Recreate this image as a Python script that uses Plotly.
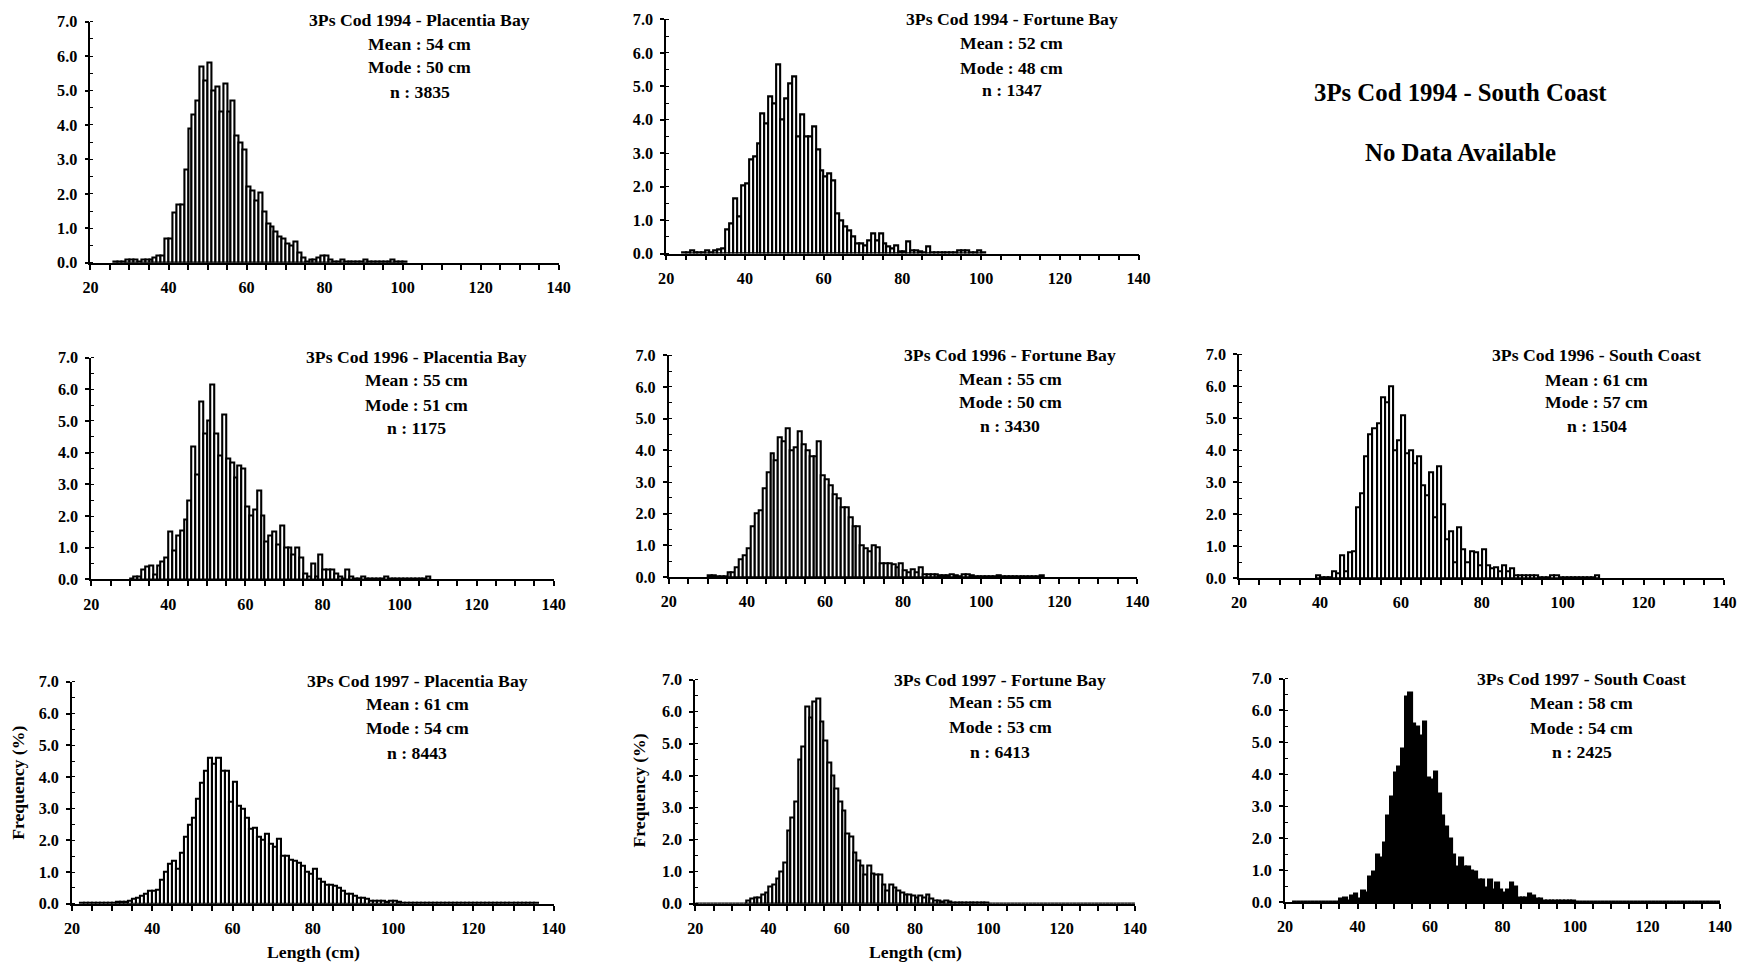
import plotly.graph_objects as go

# Figure size; the page adds its default 8 px body margin around it, and the
# captured page area (1761 x 982) is scaled back to 1745 x 966.
FW, FH = 1745, 966
BODY_MARGIN = 8
PAGE_W, PAGE_H = FW + 2 * BODY_MARGIN, FH + 2 * BODY_MARGIN
SX, SY = PAGE_W / FW, PAGE_H / FH
LEN_MIN, LEN_MAX = 20, 140

# Length-frequency (%) in 1-cm length classes; each list starts at the given length (cm)
pb94_start = 26
pb94_freq = [0.03, 0.05, 0.05, 0.08, 0.08, 0.1, 0.03, 0.08, 0.08, 0.1, 0.15, 0.2, 0.2,
             0.7, 0.7, 1.45, 1.7, 1.7, 2.7, 3.9, 4.3, 4.7, 5.7, 5.3, 5.8, 5.0, 5.1, 4.4,
             5.2, 4.4, 4.7, 3.7, 3.5, 3.3, 2.2, 2.1, 1.8, 2.05, 1.5, 1.15, 1.05, 0.9, 0.75,
             0.7, 0.55, 0.5, 0.62, 0.3, 0.15, 0.05, 0.08, 0.1, 0.15, 0.22, 0.22, 0.1, 0.05,
             0.05, 0.1, 0.03, 0.03, 0.05, 0.05, 0.03, 0.08, 0.05, 0.03, 0.05, 0.03, 0.03,
             0.05, 0.08, 0.03, 0.05, 0.03]

fb94_start = 24
fb94_freq = [0.02, 0.02, 0.08, 0.02, 0.02, 0.02, 0.08, 0.02, 0.1, 0.12, 0.15, 0.72, 0.9,
             1.65, 1.1, 2.05, 2.1, 2.8, 2.9, 3.3, 4.2, 3.9, 4.7, 4.5, 5.65, 4.0, 4.65, 5.1,
             5.3, 3.5, 4.15, 3.5, 3.5, 3.8, 3.1, 2.5, 2.3, 2.4, 2.2, 1.2, 1.0, 0.8, 0.7, 0.5,
             0.3, 0.3, 0.25, 0.4, 0.6, 0.4, 0.6, 0.3, 0.2, 0.15, 0.25, 0.05, 0.05, 0.35, 0.1,
             0.1, 0.05, 0.03, 0.2, 0.03, 0.03, 0.03, 0.03, 0.03, 0.03, 0.03, 0.08, 0.1, 0.1,
             0.03, 0.03, 0.1, 0.03]

pb96_start = 30
pb96_freq = [0.03, 0.1, 0.1, 0.3, 0.4, 0.45, 0.15, 0.45, 0.55, 0.7, 1.5, 0.9, 1.4, 1.55,
             1.9, 2.5, 4.2, 3.3, 5.6, 4.6, 5.0, 6.15, 4.6, 3.9, 5.2, 3.8, 3.7, 3.2, 3.6, 3.5,
             2.3, 2.0, 2.2, 2.8, 2.0, 1.2, 1.4, 1.5, 1.1, 1.7, 1.0, 1.0, 0.8, 1.0, 0.7, 0.2,
             0.1, 0.5, 0.1, 0.8, 0.3, 0.3, 0.3, 0.2, 0.1, 0.03, 0.3, 0.1, 0.03, 0.03, 0.1,
             0.02, 0.02, 0.02, 0.02, 0.02, 0.1, 0.02, 0.02, 0.02, 0.02, 0.02, 0.02, 0.02,
             0.02, 0.02, 0.02, 0.1]

fb96_start = 30
fb96_freq = [0.05, 0.05, 0.02, 0.02, 0.02, 0.15, 0.15, 0.3, 0.55, 0.7, 0.9, 1.6, 2.0, 2.1,
             2.8, 3.3, 3.9, 3.7, 4.4, 4.3, 4.7, 4.0, 4.1, 4.6, 4.2, 4.0, 3.8, 3.8, 4.3, 3.2,
             3.1, 2.9, 2.6, 2.5, 2.2, 2.2, 1.9, 1.6, 1.6, 1.0, 0.9, 0.8, 1.0, 0.95, 0.45,
             0.45, 0.45, 0.4, 0.3, 0.45, 0.2, 0.15, 0.25, 0.15, 0.3, 0.1, 0.1, 0.1, 0.1, 0.05,
             0.05, 0.05, 0.08, 0.05, 0.03, 0.1, 0.1, 0.05, 0.02, 0.02, 0.02, 0.02, 0.02, 0.02,
             0.05, 0.02, 0.02, 0.02, 0.02, 0.02, 0.02, 0.02, 0.02, 0.02, 0.02, 0.05]

sc96_start = 39
sc96_freq = [0.1, 0.02, 0.02, 0.02, 0.2, 0.15, 0.7, 0.2, 0.8, 0.85, 2.2, 2.65, 3.8, 4.5,
             4.7, 4.85, 5.65, 5.5, 6.0, 4.0, 4.3, 5.1, 3.9, 4.0, 3.6, 3.8, 2.9, 2.6, 3.3, 1.9,
             3.5, 2.3, 1.2, 1.45, 0.5, 1.6, 0.9, 0.5, 0.85, 0.8, 0.4, 0.9, 0.4, 0.3, 0.35,
             0.2, 0.4, 0.2, 0.3, 0.1, 0.08, 0.08, 0.08, 0.08, 0.08, 0.02, 0.02, 0.02, 0.1,
             0.1, 0.02, 0.02, 0.02, 0.02, 0.02, 0.02, 0.02, 0.02, 0.02, 0.1]

pb97_start = 22
pb97_freq = [0.02, 0.02, 0.02, 0.02, 0.02, 0.02, 0.02, 0.02, 0.02, 0.05, 0.05, 0.05, 0.1,
             0.15, 0.2, 0.25, 0.3, 0.4, 0.4, 0.45, 0.75, 1.0, 1.25, 1.35, 1.1, 1.6, 2.1, 2.5,
             2.7, 3.3, 3.8, 4.2, 4.6, 4.4, 4.6, 4.2, 4.2, 3.2, 3.85, 3.1, 3.0, 2.7, 2.35, 2.4,
             2.1, 2.0, 2.2, 1.9, 1.8, 2.05, 1.5, 1.5, 1.4, 1.35, 1.3, 1.2, 1.0, 0.95, 1.1,
             0.8, 0.7, 0.6, 0.6, 0.55, 0.5, 0.4, 0.3, 0.3, 0.25, 0.2, 0.2, 0.15, 0.1, 0.08,
             0.1, 0.08, 0.05, 0.08, 0.1, 0.05, 0.03, 0.03, 0.03, 0.02, 0.03, 0.02, 0.03, 0.02,
             0.02, 0.03, 0.02, 0.02, 0.02, 0.02, 0.02, 0.02, 0.02, 0.02, 0.02, 0.02, 0.02,
             0.02, 0.02, 0.02, 0.02, 0.02, 0.02, 0.02, 0.02, 0.02, 0.02, 0.02, 0.02, 0.03]

fb97_start = 20
fb97_freq = [0.02, 0.02, 0.02, 0.02, 0.02, 0.02, 0.02, 0.02, 0.02, 0.02, 0.02, 0.02, 0.02,
             0.02, 0.1, 0.15, 0.2, 0.2, 0.3, 0.35, 0.55, 0.6, 0.8, 1.0, 1.3, 2.3, 2.7, 3.2,
             4.5, 4.9, 6.15, 5.8, 6.3, 6.4, 5.7, 5.1, 4.4, 4.0, 3.6, 3.2, 2.9, 2.2, 2.1, 1.6,
             1.35, 1.2, 0.9, 1.2, 0.95, 0.9, 0.9, 0.6, 0.4, 0.6, 0.5, 0.4, 0.35, 0.3, 0.3,
             0.25, 0.2, 0.25, 0.2, 0.3, 0.15, 0.1, 0.1, 0.08, 0.1, 0.08, 0.05, 0.05, 0.05,
             0.05, 0.05, 0.05, 0.05, 0.05, 0.05, 0.05, 0.02, 0.02, 0.02, 0.02, 0.02, 0.02,
             0.02, 0.02, 0.02, 0.02, 0.02, 0.02, 0.02, 0.02, 0.02, 0.02, 0.02, 0.02, 0.02,
             0.02, 0.02, 0.02, 0.02, 0.02, 0.02, 0.02, 0.02, 0.02, 0.02, 0.02, 0.02, 0.02,
             0.02, 0.02, 0.02, 0.02, 0.02, 0.02, 0.02, 0.02]

sc97_start = 22
sc97_freq = [0.02, 0.02, 0.02, 0.02, 0.02, 0.02, 0.02, 0.02, 0.02, 0.02, 0.02, 0.02, 0.02,
             0.1, 0.15, 0.05, 0.2, 0.25, 0.1, 0.35, 0.3, 0.8, 0.95, 1.5, 1.4, 1.85, 2.7, 3.3,
             4.05, 4.25, 4.8, 6.45, 6.55, 5.6, 5.5, 5.2, 5.65, 3.9, 3.85, 4.1, 3.4, 2.7, 2.35,
             2.0, 1.5, 1.1, 1.4, 1.1, 1.1, 1.0, 0.95, 0.7, 0.7, 0.45, 0.7, 0.4, 0.6, 0.4, 0.3,
             0.4, 0.6, 0.5, 0.15, 0.15, 0.15, 0.25, 0.2, 0.1, 0.1, 0.06, 0.06, 0.06, 0.06,
             0.06, 0.06, 0.06, 0.06, 0.06, 0.02, 0.02, 0.02, 0.02, 0.02, 0.02, 0.02, 0.02,
             0.02, 0.02, 0.02, 0.02, 0.02, 0.02, 0.02, 0.02, 0.02, 0.02, 0.02, 0.02, 0.02,
             0.02, 0.02, 0.02, 0.02, 0.02, 0.02, 0.02, 0.02, 0.02, 0.02, 0.02, 0.02, 0.02,
             0.02, 0.02, 0.02, 0.02, 0.02, 0.02]

titles = ["3Ps Cod 1994 - Placentia Bay", "3Ps Cod 1994 - Fortune Bay",
          "3Ps Cod 1996 - Placentia Bay", "3Ps Cod 1996 - Fortune Bay", "3Ps Cod 1996 - South Coast",
          "3Ps Cod 1997 - Placentia Bay", "3Ps Cod 1997 - Fortune Bay", "3Ps Cod 1997 - South Coast"]
means = [54, 52, 55, 55, 61, 61, 55, 58]
modes = [50, 48, 51, 50, 57, 54, 53, 54]
counts = [3835, 1347, 1175, 3430, 1504, 8443, 6413, 2425]
starts = [pb94_start, fb94_start, pb96_start, fb96_start, sc96_start, pb97_start, fb97_start, sc97_start]
freqs = [pb94_freq, fb94_freq, pb96_freq, fb96_freq, sc96_freq, pb97_freq, fb97_freq, sc97_freq]
no_data_title = "3Ps Cod 1994 - South Coast"

# Plot areas in output pixels: (left, right, top, bottom)
boxes = [(90.6, 560.0, 21.5, 263.3), (667.7, 1141.2, 19.3, 254.0),
         (91.4, 555.0, 358.3, 580.7), (670.3, 1140.1, 356.0, 578.3), (1242.0, 1728.5, 355.0, 579.3),
         (72.1, 554.9, 683.3, 905.7), (696.9, 1137.5, 681.0, 905.7), (1288.1, 1724.0, 680.0, 904.0)]
# Label block per panel: centre x and the y of its four lines
label_x = [420.8, 1014.3, 417.6, 1012.8, 1600.7, 418.0, 1002.7, 1585.4]
label_y = [(20, 43.5, 67.5, 92.2), (19.3, 43.3, 67.7, 90),
           (357.3, 381, 405.7, 429), (356, 380, 403.3, 427.3), (356, 380.7, 403.3, 427.3),
           (682.7, 706, 730, 755), (681, 704, 728.3, 753.3), (680.7, 705, 729.3, 753.3)]
solid = [False, False, False, False, False, False, False, True]

SERIF = "Liberation Serif"
FONT_K = 1.012


def px(x):
    return (x * SX - BODY_MARGIN) / FW


def py(y):
    return 1 - (y * SY - BODY_MARGIN) / FH


def bold(size):
    return dict(family=SERIF, size=round(size * FONT_K, 2), color="black", weight="bold")


fig = go.Figure()
annotations = []
layout = {}

for i in range(8):
    ax = "" if i == 0 else str(i + 1)
    xs = [starts[i] + k + 0.5 for k in range(len(freqs[i]))]
    fig.add_trace(go.Bar(
        x=xs, y=freqs[i], width=1.0,
        xaxis="x" + ax, yaxis="y" + ax,
        marker=dict(color="black" if solid[i] else "white",
                    line=dict(color="black", width=2.1)),
        showlegend=False, hoverinfo="x+y",
    ))
    l, r, t, b = boxes[i]
    layout["xaxis" + ax] = dict(
        domain=[px(l), px(r)], anchor="y" + ax, range=[LEN_MIN, LEN_MAX],
        tickmode="linear", tick0=20, dtick=20, ticks="outside", ticklen=5, tickwidth=1.5,
        tickcolor="black", showline=True, linecolor="black", linewidth=1.8,
        showgrid=False, zeroline=False, ticklabelstandoff=4,
        tickfont=bold(16),
        minor=dict(dtick=5, tick0=20, ticks="outside", ticklen=5, tickwidth=1.5,
                   tickcolor="black", showgrid=False),
        fixedrange=True,
    )
    layout["yaxis" + ax] = dict(
        domain=[py(b), py(t)], anchor="x" + ax, range=[0, 7],
        tickmode="linear", tick0=0, dtick=1, tickformat=".1f", ticks="outside", ticklen=4,
        tickwidth=1.5, tickcolor="black", showline=True, linecolor="black", linewidth=1.8,
        showgrid=False, zeroline=False, ticklabelstandoff=4,
        tickfont=bold(16),
        minor=dict(dtick=0.5, ticks="inside", ticklen=3, tickwidth=1.2, tickcolor="black", showgrid=False),
        fixedrange=True,
    )
    lines = [titles[i], f"Mean : {means[i]} cm", f"Mode : {modes[i]} cm", f"n : {counts[i]}"]
    for j, txt in enumerate(lines):
        annotations.append(dict(
            x=px(label_x[i]), y=py(label_y[i][j]), xref="paper", yref="paper",
            text=txt, showarrow=False, xanchor="center", yanchor="middle",
            font=bold(17.5),
        ))

# Panel without data
annotations.append(dict(x=px(1463.8), y=py(93), xref="paper", yref="paper", text=no_data_title,
                        showarrow=False, xanchor="center", yanchor="middle", font=bold(24.5)))
annotations.append(dict(x=px(1463.8), y=py(153), xref="paper", yref="paper", text="No Data Available",
                        showarrow=False, xanchor="center", yanchor="middle", font=bold(24.5)))

# Axis titles on the bottom row
for fx, fy, lx in [(18.5, 785, 314.4), (640.7, 792, 918.0)]:
    annotations.append(dict(x=px(fx), y=py(fy), xref="paper", yref="paper", text="Frequency (%)",
                            textangle=-90, showarrow=False, xanchor="center", yanchor="middle",
                            font=bold(17.5)))
    annotations.append(dict(x=px(lx), y=py(954), xref="paper", yref="paper", text="Length (cm)",
                            showarrow=False, xanchor="center", yanchor="middle", font=bold(17.5)))

fig.update_layout(
    width=FW, height=FH, margin=dict(l=0, r=0, t=0, b=0),
    paper_bgcolor="white", plot_bgcolor="white",
    bargap=0, annotations=annotations, showlegend=False,
    **layout,
)

fig.write_html("out.html", config={"displayModeBar": False})
